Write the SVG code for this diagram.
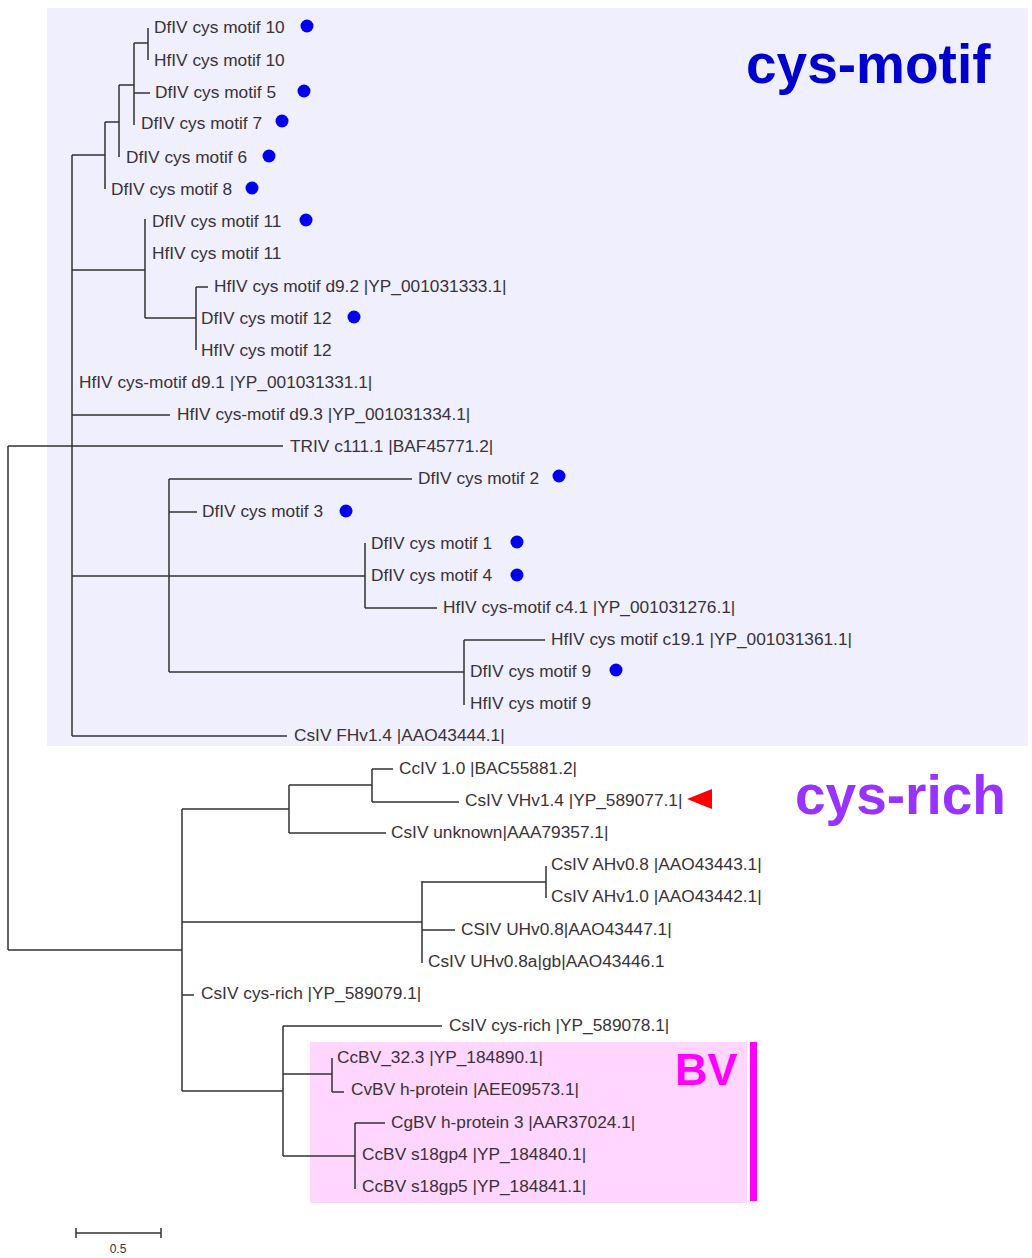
<svg xmlns="http://www.w3.org/2000/svg" width="1032" height="1258" viewBox="0 0 1032 1258">
<style>
.lf{font-family:"Liberation Sans",Arial,sans-serif;font-size:17.3px;fill:#3a3238}
.dot{fill:#0000ee}
.tree{stroke:#333;stroke-width:1.5;fill:none}
.big{font-family:"Liberation Sans",Arial,sans-serif;font-weight:bold}
</style>
<rect width="1032" height="1258" fill="#ffffff"/>
<g id="cys-motif-box">
<rect x="47" y="8" width="981" height="738" fill="#efeffd"/>
<text class="big" x="746" y="83" font-size="55" fill="#0000cc">cys-motif</text>
</g>
<g id="bv-box">
<rect x="310" y="1042" width="437" height="161" fill="#ffd6ff"/>
<rect x="750" y="1042" width="7" height="159" fill="#ff00ff"/>
<text class="big" x="675" y="1085" font-size="45" fill="#ff00ff">BV</text>
</g>
<g id="cys-rich-label">
<text class="big" x="795" y="814" font-size="55" fill="#9933ff">cys-rich</text>
</g>
<g id="connectors" class="tree">
<path d="M148 28V60M134 43V125M119 85V157M105 122V189M72 155V736M145 219V318M196 287V350M169 479V672M365 543V608M464 640V705M8 446V950M182 809V1091M289 785V833M372 769V802M422 881V963M546 866V898M283 1026V1156M332 1058V1092M355 1123V1189"/>
<path d="M134 43H148M134 93H150M119 85H134M105 122H119M72 155H105M72 270H145M145 318H196M196 287H208M72 415H170M8 446H283M169 479H412M169 512H197M72 576H365M365 608H437M169 672H464M464 640H545M72 736H287M8 950H182M182 809H289M289 785H372M372 769H393M372 802H459M289 833H386M182 922H422M422 882H546M422 930H455M182 995H194M283 1026H442M182 1091H283M283 1074H332M332 1092H344M283 1156H355M355 1123H385"/>
</g>
<g id="n1"><text class="lf" x="154" y="33">DfIV cys motif 10</text><circle class="dot" cx="307" cy="26" r="6.5"/></g>
<g id="n2"><text class="lf" x="154" y="66">HfIV cys motif 10</text></g>
<g id="n3"><text class="lf" x="155" y="98">DfIV cys motif 5</text><circle class="dot" cx="304" cy="91" r="6.5"/></g>
<g id="n4"><text class="lf" x="141" y="129">DfIV cys motif 7</text><circle class="dot" cx="282" cy="121" r="6.5"/></g>
<g id="n5"><text class="lf" x="126" y="163">DfIV cys motif 6</text><circle class="dot" cx="269" cy="156" r="6.5"/></g>
<g id="n6"><text class="lf" x="111" y="195">DfIV cys motif 8</text><circle class="dot" cx="252" cy="188" r="6.5"/></g>
<g id="n7"><text class="lf" x="152" y="227">DfIV cys motif 11</text><circle class="dot" cx="306" cy="220" r="6.5"/></g>
<g id="n8"><text class="lf" x="152" y="259">HfIV cys motif 11</text></g>
<g id="n9"><text class="lf" x="214" y="292">HfIV cys motif d9.2 |YP_001031333.1|</text></g>
<g id="n10"><text class="lf" x="201" y="324">DfIV cys motif 12</text><circle class="dot" cx="354" cy="317" r="6.5"/></g>
<g id="n11"><text class="lf" x="201" y="356">HfIV cys motif 12</text></g>
<g id="n12"><text class="lf" x="79" y="388">HfIV cys-motif d9.1 |YP_001031331.1|</text></g>
<g id="n13"><text class="lf" x="177" y="420">HfIV cys-motif d9.3 |YP_001031334.1|</text></g>
<g id="n14"><text class="lf" x="290" y="452">TRIV c111.1 |BAF45771.2|</text></g>
<g id="n15"><text class="lf" x="418" y="484">DfIV cys motif 2</text><circle class="dot" cx="559" cy="476" r="6.5"/></g>
<g id="n16"><text class="lf" x="202" y="517">DfIV cys motif 3</text><circle class="dot" cx="346" cy="511" r="6.5"/></g>
<g id="n17"><text class="lf" x="371" y="549">DfIV cys motif 1</text><circle class="dot" cx="517" cy="542" r="6.5"/></g>
<g id="n18"><text class="lf" x="371" y="581">DfIV cys motif 4</text><circle class="dot" cx="517" cy="575" r="6.5"/></g>
<g id="n19"><text class="lf" x="443" y="613">HfIV cys-motif c4.1 |YP_001031276.1|</text></g>
<g id="n20"><text class="lf" x="551" y="645">HfIV cys motif c19.1 |YP_001031361.1|</text></g>
<g id="n21"><text class="lf" x="470" y="677">DfIV cys motif 9</text><circle class="dot" cx="616" cy="670" r="6.5"/></g>
<g id="n22"><text class="lf" x="470" y="709">HfIV cys motif 9</text></g>
<g id="n23"><text class="lf" x="294" y="741">CsIV FHv1.4 |AAO43444.1|</text></g>
<g id="n24"><text class="lf" x="399" y="774">CcIV 1.0 |BAC55881.2|</text></g>
<g id="n25"><text class="lf" x="465" y="806">CsIV VHv1.4 |YP_589077.1|</text><polygon points="687,799 712,789 712,809" fill="#ff0000"/></g>
<g id="n26"><text class="lf" x="391" y="838">CsIV unknown|AAA79357.1|</text></g>
<g id="n27"><text class="lf" x="551" y="870">CsIV AHv0.8 |AAO43443.1|</text></g>
<g id="n28"><text class="lf" x="551" y="902">CsIV AHv1.0 |AAO43442.1|</text></g>
<g id="n29"><text class="lf" x="461" y="935">CSIV UHv0.8|AAO43447.1|</text></g>
<g id="n30"><text class="lf" x="428" y="967">CsIV UHv0.8a|gb|AAO43446.1</text></g>
<g id="n31"><text class="lf" x="201" y="999">CsIV cys-rich |YP_589079.1|</text></g>
<g id="n32"><text class="lf" x="449" y="1031">CsIV cys-rich |YP_589078.1|</text></g>
<g id="n33"><text class="lf" x="337" y="1063">CcBV_32.3 |YP_184890.1|</text></g>
<g id="n34"><text class="lf" x="351" y="1095">CvBV h-protein |AEE09573.1|</text></g>
<g id="n35"><text class="lf" x="391" y="1128">CgBV h-protein 3 |AAR37024.1|</text></g>
<g id="n36"><text class="lf" x="362" y="1160">CcBV s18gp4 |YP_184840.1|</text></g>
<g id="n37"><text class="lf" x="362" y="1192">CcBV s18gp5 |YP_184841.1|</text></g>
<g id="scale-bar">
<path class="tree" d="M76 1233H161M76 1228V1238M161 1228V1238"/>
<text x="118" y="1253" text-anchor="middle" font-family="Liberation Sans, Arial, sans-serif" font-size="12" fill="#3a3238">0.5</text>
</g>
</svg>
